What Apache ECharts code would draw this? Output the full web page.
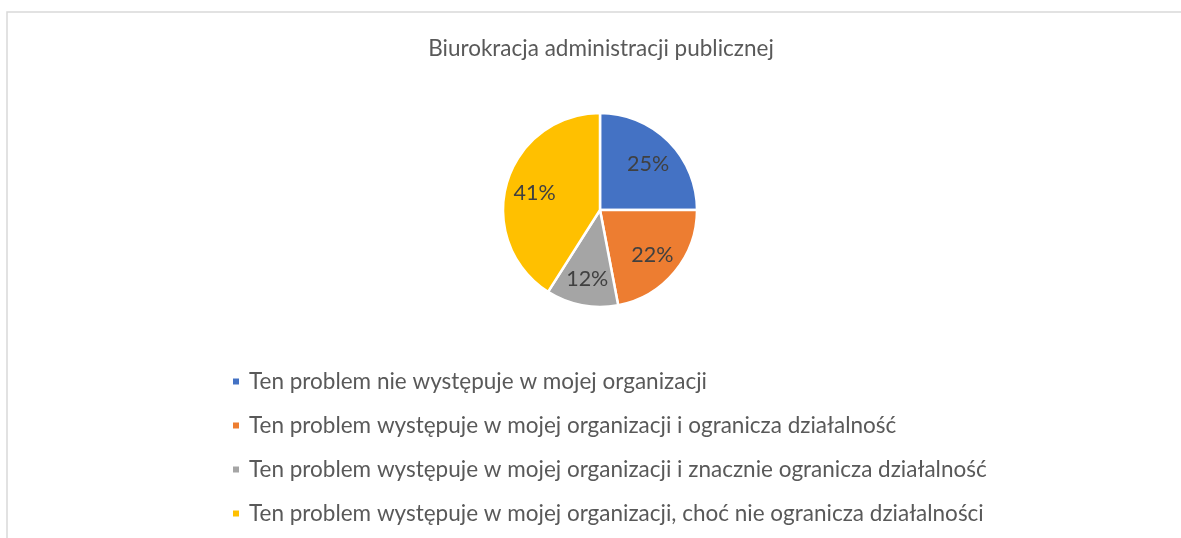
<!DOCTYPE html>
<html>
<head>
<meta charset="utf-8">
<script src="https://cdn.jsdelivr.net/npm/echarts@6/dist/echarts.min.js"></script>
<style>
  html, body { margin: 0; padding: 0; background: #fff; }
  #chart { width: 1181px; height: 538px; }
</style>
</head>
<body>
<div id="chart"></div>
<script>
// dane
var chartTitle = 'Biurokracja administracji publicznej';
var categories = [
    'Ten problem nie występuje w mojej organizacji',
    'Ten problem występuje w mojej organizacji i ogranicza działalność',
    'Ten problem występuje w mojej organizacji i znacznie ogranicza działalność',
    'Ten problem występuje w mojej organizacji, choć nie ogranicza działalności'
];
var values = [25, 22, 12, 41];
var colors = ['#4472C4', '#ED7D31', '#A5A5A5', '#FFC000'];

var fontName = 'Lato, "Open Sans", sans-serif';

var pieData = [];
for (var i = 0; i < categories.length; i++)
    pieData.push({ name: categories[i], value: values[i] });

var myChart = echarts.init(document.getElementById('chart'));
myChart.setOption({
    animation: false,
    color: colors,
    title: {
        text: chartTitle,
        left: 596,
        top: 32,
        textAlign: 'center',
        textStyle: { fontFamily: fontName, fontSize: 22.5, fontWeight: 'normal', color: '#595959' }
    },
    legend: {
        orient: 'vertical',
        left: 226,
        top: 365,
        icon: 'rect',
        itemWidth: 8,
        itemHeight: 8,
        itemGap: 21,
        data: categories,
        textStyle: { fontFamily: fontName, fontSize: 22.5, color: '#595959', padding: [0, 0, 0, 4] }
    },
    graphic: [{
        type: 'rect',
        shape: { x: 7, y: 12, width: 1300, height: 700 },
        style: { fill: 'none', stroke: '#D9D9D9', lineWidth: 1.5 },
        silent: true
    }],
    series: [
        {
            type: 'pie',
            center: [600, 210],
            radius: [0, 97],
            startAngle: 90,
            clockwise: true,
            data: pieData,
            itemStyle: { borderColor: '#fff', borderWidth: 2.5 },
            label: { show: false },
            labelLine: { show: false }
        },
        {
            // tylko etykiety procentowe, dalej od środka niż domyślne 'inside'
            type: 'pie',
            center: [600, 212],
            radius: [0, 130],
            startAngle: 90,
            clockwise: true,
            silent: true,
            data: pieData,
            itemStyle: { color: 'rgba(0,0,0,0)' },
            label: {
                show: true,
                position: 'inside',
                formatter: '{d}%',
                fontFamily: fontName,
                fontSize: 21.5,
                color: '#404040'
            },
            labelLine: { show: false }
        }
    ]
});
</script>
</body>
</html>
